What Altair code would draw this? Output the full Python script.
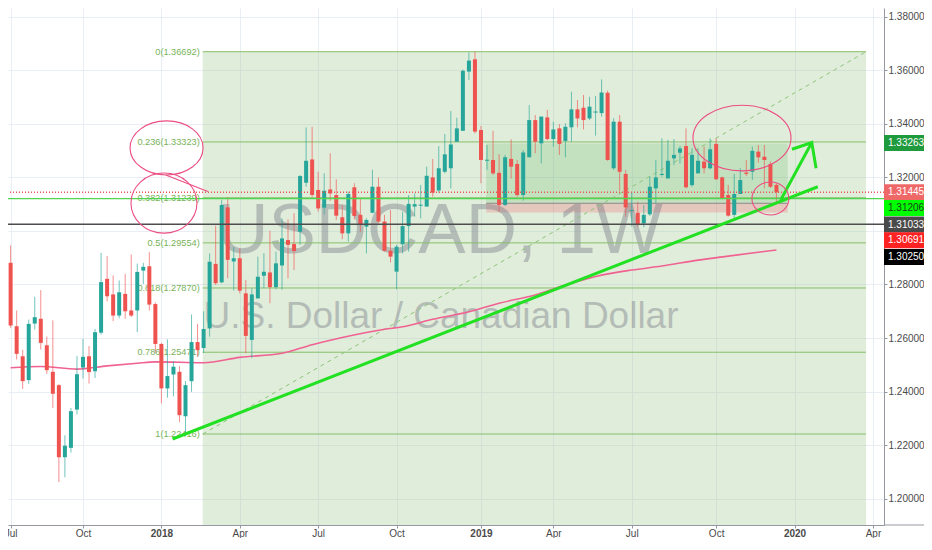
import altair as alt
import pandas as pd

# ---------------- data ----------------
first_week = "2017-07-10"
opens = [1.2881, 1.2644, 1.2532, 1.2443, 1.2654, 1.2672, 1.2573, 1.2474, 1.2424, 1.2155,
         1.2190, 1.2333, 1.2490, 1.2532, 1.2476, 1.2620, 1.2821, 1.2763, 1.2684, 1.2765,
         1.2703, 1.2703, 1.2852, 1.2868, 1.2727, 1.2578, 1.2412, 1.2464, 1.2474, 1.2308,
         1.2439, 1.2585, 1.2563, 1.2636, 1.2877, 1.2808, 1.3088, 1.2886, 1.2898, 1.2767,
         1.2593, 1.2748, 1.2833, 1.2845, 1.2790, 1.2871, 1.2966, 1.2951, 1.2997, 1.3180,
         1.3267, 1.3153, 1.3087, 1.3155, 1.3134, 1.3051, 1.2991, 1.3163, 1.3060, 1.3016,
         1.3068, 1.3165, 1.3035, 1.2926, 1.2848, 1.2950, 1.3018, 1.3091, 1.3094, 1.3091,
         1.3200, 1.3151, 1.3221, 1.3234, 1.3333, 1.3374, 1.3595, 1.3641, 1.3377, 1.3262,
         1.3265, 1.3217, 1.3097, 1.3269, 1.3250, 1.3134, 1.3275, 1.3414, 1.3327, 1.3424,
         1.3343, 1.3383, 1.3336, 1.3387, 1.3454, 1.3460, 1.3420, 1.3442, 1.3440, 1.3516,
         1.3234, 1.3408, 1.3213, 1.3075, 1.3068, 1.3028, 1.3062, 1.3159, 1.3209, 1.3196,
         1.3271, 1.3292, 1.3317, 1.3171, 1.3215, 1.3259, 1.3234, 1.3325, 1.3200, 1.3134,
         1.3060, 1.3138, 1.3218, 1.3221, 1.3296, 1.3277, 1.3250, 1.3172]
highs = [1.2946, 1.2703, 1.2556, 1.2669, 1.2754, 1.2779, 1.2606, 1.2666, 1.2428, 1.2237,
         1.2339, 1.2533, 1.2597, 1.2570, 1.2634, 1.2918, 1.2906, 1.2834, 1.2815, 1.2840,
         1.2912, 1.2878, 1.2881, 1.2921, 1.2733, 1.2582, 1.2595, 1.2514, 1.2495, 1.2439,
         1.2688, 1.2653, 1.2700, 1.2916, 1.3020, 1.3116, 1.3126, 1.2941, 1.2935, 1.2817,
         1.2786, 1.2904, 1.2917, 1.3001, 1.2923, 1.3047, 1.3043, 1.3066, 1.3209, 1.3387,
         1.3389, 1.3221, 1.3215, 1.3290, 1.3193, 1.3097, 1.3147, 1.3178, 1.3122, 1.3047,
         1.3228, 1.3200, 1.3060, 1.3078, 1.2948, 1.3072, 1.3134, 1.3140, 1.3172, 1.3240,
         1.3269, 1.3317, 1.3362, 1.3448, 1.3423, 1.3603, 1.3666, 1.36692, 1.3392, 1.3321,
         1.3374, 1.3287, 1.3284, 1.3342, 1.3265, 1.3302, 1.3470, 1.3433, 1.3427, 1.3452,
         1.3408, 1.3399, 1.3402, 1.3520, 1.3489, 1.3508, 1.3501, 1.3504, 1.3566, 1.3524,
         1.3421, 1.3433, 1.3228, 1.3143, 1.3109, 1.3097, 1.3203, 1.3265, 1.3346, 1.3340,
         1.3343, 1.3317, 1.3383, 1.3309, 1.3306, 1.3315, 1.3346, 1.3346, 1.3203, 1.3172,
         1.3213, 1.3234, 1.3265, 1.3315, 1.3321, 1.3321, 1.3259, 1.3178]
lows = [1.2638, 1.2520, 1.2410, 1.2429, 1.2632, 1.2557, 1.2466, 1.2339, 1.2062, 1.2080,
        1.2172, 1.2315, 1.2449, 1.2430, 1.2451, 1.2613, 1.2737, 1.2663, 1.2674, 1.2672,
        1.2679, 1.2622, 1.2802, 1.2703, 1.2545, 1.2356, 1.2377, 1.2382, 1.2286, 1.22416,
        1.2399, 1.2532, 1.2544, 1.2605, 1.2798, 1.2805, 1.2823, 1.2777, 1.2767, 1.2543,
        1.2525, 1.2748, 1.2786, 1.2730, 1.2782, 1.2780, 1.2823, 1.2854, 1.2948, 1.3165,
        1.3126, 1.3072, 1.3062, 1.3112, 1.3041, 1.2969, 1.2960, 1.3043, 1.2997, 1.2916,
        1.3066, 1.3028, 1.2923, 1.2882, 1.2782, 1.2916, 1.2923, 1.3053, 1.3047, 1.3091,
        1.3128, 1.3143, 1.3215, 1.3159, 1.3333, 1.3374, 1.3564, 1.3364, 1.3178, 1.3228,
        1.3209, 1.3072, 1.3093, 1.3196, 1.3128, 1.3113, 1.3275, 1.3290, 1.3252, 1.3339,
        1.3315, 1.3284, 1.3275, 1.3333, 1.3387, 1.3379, 1.3414, 1.3356, 1.3427, 1.3262,
        1.3228, 1.3150, 1.3053, 1.3016, 1.3016, 1.3014, 1.3056, 1.3103, 1.3203, 1.3196,
        1.3246, 1.3252, 1.3159, 1.3165, 1.3215, 1.3215, 1.3230, 1.3190, 1.3118, 1.3053,
        1.3047, 1.3138, 1.3205, 1.3190, 1.3255, 1.3159, 1.3160, 1.3109]
closes = [1.2647, 1.2541, 1.2439, 1.2653, 1.2678, 1.2582, 1.2480, 1.2392, 1.2155, 1.2198,
          1.2327, 1.2465, 1.2530, 1.2473, 1.2622, 1.2809, 1.2756, 1.2684, 1.2771, 1.2700,
          1.2684, 1.2847, 1.2866, 1.2725, 1.2578, 1.2412, 1.2458, 1.2493, 1.2312, 1.2424,
          1.2585, 1.2555, 1.2634, 1.2885, 1.2805, 1.3097, 1.2892, 1.2898, 1.2777, 1.2608,
          1.2763, 1.2829, 1.2848, 1.2790, 1.2879, 1.2972, 1.2948, 1.2925, 1.3205, 1.3262,
          1.3134, 1.3084, 1.3150, 1.3140, 1.3057, 1.2991, 1.3138, 1.3056, 1.3022, 1.3041,
          1.3165, 1.3035, 1.2926, 1.2904, 1.2941, 1.3018, 1.3101, 1.3100, 1.3098, 1.3206,
          1.3143, 1.3234, 1.3286, 1.3323, 1.3383, 1.3598, 1.3636, 1.3371, 1.3265, 1.3266,
          1.3215, 1.3097, 1.3275, 1.3240, 1.3134, 1.3293, 1.3414, 1.3333, 1.3427, 1.3343,
          1.3379, 1.3325, 1.3389, 1.3454, 1.3420, 1.3414, 1.3464, 1.3446, 1.3517, 1.3265,
          1.3408, 1.3221, 1.3088, 1.3078, 1.3022, 1.3060, 1.3165, 1.3200, 1.3213, 1.3262,
          1.3284, 1.3308, 1.3163, 1.3284, 1.3262, 1.3234, 1.3305, 1.3193, 1.3122, 1.3057,
          1.3138, 1.3190, 1.3213, 1.3299, 1.3275, 1.3265, 1.3165, 1.31445]

ma_dates = ["2017-07-10", "2017-08-14", "2017-09-25", "2017-10-30", "2017-12-04", "2017-12-25",
            "2018-02-19", "2018-04-02", "2018-05-21", "2018-06-25", "2018-07-30", "2018-09-17",
            "2018-10-08", "2018-11-12", "2018-12-24", "2019-01-28", "2019-03-11", "2019-04-15",
            "2019-05-27", "2019-07-01", "2019-08-05", "2019-09-16", "2019-10-21", "2019-12-16"]
ma_values = [1.2489, 1.2494, 1.2484, 1.2496, 1.2506, 1.2511, 1.2508, 1.2528, 1.2543, 1.2575,
             1.2602, 1.2633, 1.2642, 1.2670, 1.2698, 1.2730, 1.2761, 1.2798, 1.2835, 1.2854,
             1.2869, 1.2891, 1.2906, 1.2929]

fib_ratios = ["0", "0.236", "0.382", "0.5", "0.618", "0.786", "1"]
fib_prices = [1.36692, 1.33323, 1.31239, 1.29554, 1.27870, 1.25471, 1.22416]
fib_dates = ["2018-02-18", "2020-03-29"]

pos_dates = ["2019-01-13", "2019-12-29"]
pos_levels = {"target": 1.33263, "entry": 1.31033, "stop": 1.30691}

last_price = 1.31445
green_level = 1.31206
dark_level = 1.30250

trend_dates = ["2018-01-14", "2020-02-02"]
trend_prices = [1.2223, 1.3165]
arrow_dates = ["2019-12-21", "2020-01-26"]
arrow_prices = [1.3116, 1.3330]
head_dates = ["2020-01-03", "2020-01-26", "2020-01-31"]
head_prices = [1.3305, 1.3330, 1.3234]

loop_dates = ["2018-01-07", "2018-01-04", "2019-11-06", "2019-12-09"]
loop_prices = [1.3310, 1.3104, 1.3347, 1.3121]
tail_dates = ["2018-01-06", "2018-02-24"]
tail_prices = [1.3209, 1.3147]

tag_texts = ["1.33263", "1.31445", "1.31206", "1.31033", "1.30691", "1.30250"]
tag_slots = [1.33280, 1.31447, 1.30857, 1.30240, 1.29650, 1.29023]

x_tick_dates = ["2017-07-10", "2017-10-02", "2018-01-01", "2018-04-02", "2018-07-02", "2018-10-01",
                "2019-01-07", "2019-04-01", "2019-07-01", "2019-10-07", "2020-01-06", "2020-04-06"]
y_ticks = [1.20, 1.22, 1.24, 1.26, 1.28, 1.30, 1.32, 1.34, 1.36, 1.38]

# ---------------- styling ----------------
UP, DOWN = "#26a69a", "#ef5350"
FIB = "#86bf68"
PINK = "#ec4d82"
LIME = "#22e022"
FONT = "Liberation Sans"
W, H = 876, 517
RIGHT, BOTTOM = 40, 13


def dt(s, hours=0):
    y, m, d = (int(v) for v in s.split("-"))
    return alt.DateTime(year=y, month=m, date=d, hours=hours, utc=True)


xscale = alt.Scale(type="utc", domain=[dt("2017-07-12", 18), dt("2020-04-13", 1)])
yscale = alt.Scale(domain=[1.19019, 1.38325], zero=False, nice=False)

xaxis = alt.Axis(values=[dt(s) for s in x_tick_dates], title=None,
                 labelExpr="utcmonth(datum.value) == 0 ? utcFormat(datum.value, '%Y') : utcFormat(datum.value, '%b')",
                 labelFontWeight={"condition": {"test": "utcmonth(datum.value) == 0", "value": "bold"},
                                  "value": "normal"},
                 labelFlush=False, labelOverlap=False, labelBound=False,
                 grid=True, gridColor="#e9eef5", gridWidth=1,
                 domainColor="#9598a1", tickColor="#9598a1", tickSize=3, labelPadding=0,
                 labelColor="#4a4a4a", labelFont=FONT, labelFontSize=10, labelBaseline="top")
yaxis = alt.Axis(values=y_ticks, orient="right", title=None,
                 labelExpr="abs(datum.value - 1.3) < 0.0001 ? '' : format(datum.value, '.5f')",
                 grid=True, gridColor="#e9eef5", gridWidth=1,
                 domainColor="#9598a1", tickColor="#9598a1", tickSize=3, labelPadding=1,
                 labelColor="#4a4a4a", labelFont=FONT, labelFontSize=10, labelFlush=False,
                 labelOverlap=False)


def X(field):
    return alt.X(f"{field}:T", scale=xscale, axis=xaxis)


def Y(field):
    return alt.Y(f"{field}:Q", scale=yscale, axis=yaxis)


# ---------------- tables ----------------
weeks = pd.date_range(first_week, periods=len(opens), freq="7D").strftime("%Y-%m-%d")
candles = pd.DataFrame({"date": weeks, "o": opens, "h": highs, "l": lows, "c": closes})
candles["col"] = [UP if c >= o else DOWN for o, c in zip(opens, closes)]

ma = pd.DataFrame({"date": ma_dates, "v": ma_values})
fib = pd.DataFrame({"d1": fib_dates[0], "d2": fib_dates[1], "p": fib_prices,
                    "label": [f"{r}({p:.5f})" for r, p in zip(fib_ratios, fib_prices)]})
shade = pd.DataFrame({"d1": [fib_dates[0]], "d2": [fib_dates[1]], "p1": [fib_prices[0]], "p2": [1.19]})
diag = pd.DataFrame({"date": fib_dates, "p": [fib_prices[-1], fib_prices[0]]})
pos = pd.DataFrame({"d1": pos_dates[0], "d2": pos_dates[1],
                    "p1": [pos_levels["entry"], pos_levels["stop"]],
                    "p2": [pos_levels["target"], pos_levels["entry"]],
                    "col": ["#4caf50", "#f23645"]})
entry = pd.DataFrame({"d1": [pos_dates[0]], "d2": [pos_dates[1]], "p": [pos_levels["entry"]]})
hlines = pd.DataFrame({"p": [last_price, green_level, dark_level],
                       "col": ["#ef5350", "#4fd64f", "#4d4d4d"],
                       "dash": ["dot", "solid", "solid"]})
trend = pd.DataFrame({"date": trend_dates, "p": trend_prices})
arrow = pd.DataFrame({"date": arrow_dates, "p": arrow_prices})
head = pd.DataFrame({"date": head_dates, "p": head_prices, "o": [0, 1, 2]})
loops = pd.DataFrame({"date": loop_dates, "p": loop_prices,
                      "shape": ["M -1 0 A 1 0.74 0 1 1 1 0 A 1 0.74 0 1 1 -1 0 Z",
                                "M -1 0 A 1 0.91 0 1 1 1 0 A 1 0.91 0 1 1 -1 0 Z",
                                "M -1 0 A 1 0.67 0 1 1 1 0 A 1 0.67 0 1 1 -1 0 Z",
                                "M -1 0 A 1 0.89 0 1 1 1 0 A 1 0.89 0 1 1 -1 0 Z"],
                      "size": [5329, 4356, 9604, 1369]})
tail1 = pd.DataFrame({"date": tail_dates, "p": tail_prices})
tags = pd.DataFrame({"t": tag_texts, "p": tag_slots,
                     "bg": ["#1f9a3d", "#ef6868", "#00ff00", "#4a4a4a", "#ff2222", "#000000"],
                     "fg": ["#ffffff", "#ffffff", "#1b3d1b", "#ffffff", "#ffffff", "#ffffff"]})
wm1 = pd.DataFrame({"t": ["USDCAD, 1W"]})
wm2 = pd.DataFrame({"t": ["U.S. Dollar / Canadian Dollar"]})

# ---------------- layers ----------------
l_shade = alt.Chart(shade).mark_rect(color="#9bc387", opacity=0.3, clip=True).encode(
    x=X("d1"), x2="d2", y=Y("p1"), y2="p2")
l_pos = alt.Chart(pos).mark_rect(opacity=0.2).encode(
    x=X("d1"), x2="d2", y=Y("p1"), y2="p2", color=alt.Color("col:N", scale=None))
l_entry = alt.Chart(entry).mark_rule(color="#8a8a8a", strokeWidth=1).encode(
    x=X("d1"), x2="d2", y=Y("p"))
l_wm1 = alt.Chart(wm1).mark_text(
    font=FONT, fontSize=71, color="#787b86", opacity=0.42, align="center", baseline="alphabetic"
).encode(text="t:N", x=alt.value(432), y=alt.value(245))
l_wm2 = alt.Chart(wm2).mark_text(
    font=FONT, fontSize=37, color="#787b86", opacity=0.42, align="center", baseline="alphabetic"
).encode(text="t:N", x=alt.value(433), y=alt.value(320))
l_fib = alt.Chart(fib).mark_rule(color=FIB, strokeWidth=1).encode(x=X("d1"), x2="d2", y=Y("p"))
l_fibtxt = alt.Chart(fib).mark_text(font=FONT, fontSize=9.2, color="#78b358", align="right",
                                    baseline="middle", dx=-3).encode(x=X("d1"), y=Y("p"), text="label:N")
l_diag = alt.Chart(diag).mark_line(color="#8cc57a", strokeWidth=1, strokeDash=[4, 4]).encode(
    x=X("date"), y=Y("p"))
l_ma = alt.Chart(ma).mark_line(color="#f06292", strokeWidth=1.6, interpolate="monotone").encode(
    x=X("date"), y=Y("v"))
l_wick = alt.Chart(candles).mark_rule(strokeWidth=1, opacity=0.65).encode(
    x=X("date"), y=Y("l"), y2="h", color=alt.Color("col:N", scale=None))
l_body = alt.Chart(candles).mark_bar(size=4).encode(
    x=X("date"), y=Y("o"), y2="c", color=alt.Color("col:N", scale=None))
l_h = alt.Chart(hlines).mark_rule(strokeWidth=1.4).encode(
    y=Y("p"), color=alt.Color("col:N", scale=None),
    strokeDash=alt.StrokeDash("dash:N", scale=alt.Scale(domain=["dot", "solid"], range=[[1, 2], [1, 0]]),
                              legend=None))
l_trend = alt.Chart(trend).mark_line(color=LIME, strokeWidth=3).encode(x=X("date"), y=Y("p"))
l_arrow = alt.Chart(arrow).mark_line(color=LIME, strokeWidth=3).encode(x=X("date"), y=Y("p"))
l_head = alt.Chart(head).mark_line(color=LIME, strokeWidth=3, strokeJoin="miter").encode(
    x=X("date"), y=Y("p"), order="o:O")
l_loops = alt.Chart(loops).mark_point(filled=False, color=PINK, strokeWidth=1.1, opacity=1).encode(
    x=X("date"), y=Y("p"), shape=alt.Shape("shape:N", scale=None), size=alt.Size("size:Q", scale=None))
l_tail1 = alt.Chart(tail1).mark_line(color=PINK, strokeWidth=1.1).encode(x=X("date"), y=Y("p"))
l_tagbg = alt.Chart(tags).mark_point(filled=True, opacity=1, shape="M -1 -0.4 H 1 V 0.4 H -1 Z",
                                     size=RIGHT * RIGHT).encode(
    x=alt.value(W + RIGHT / 2), y=Y("p"), color=alt.Color("bg:N", scale=None))
l_tagtx = alt.Chart(tags).mark_text(font=FONT, fontSize=10, align="left", baseline="middle").encode(
    x=alt.value(W + 4), y=Y("p"), text="t:N", color=alt.Color("fg:N", scale=None))
l_base = alt.Chart(pd.DataFrame({"a": [0]})).mark_rule(color="#9598a1").encode(
    x=alt.value(W), x2=alt.value(W + RIGHT), y=alt.value(H))

chart = alt.layer(
    l_shade, l_pos, l_entry, l_wm1, l_wm2, l_fib, l_fibtxt, l_diag, l_ma, l_wick, l_body,
    l_h, l_trend, l_arrow, l_head, l_loops, l_tail1, l_tagbg, l_tagtx, l_base
).properties(
    width=W, height=H,
    padding={"left": 0, "top": 0, "right": RIGHT, "bottom": BOTTOM},
    autosize=alt.AutoSizeParams(type="none"),
    background="white",
).configure_view(strokeWidth=0)

chart.save("out.html", embed_options={"renderer": "svg", "actions": False})
